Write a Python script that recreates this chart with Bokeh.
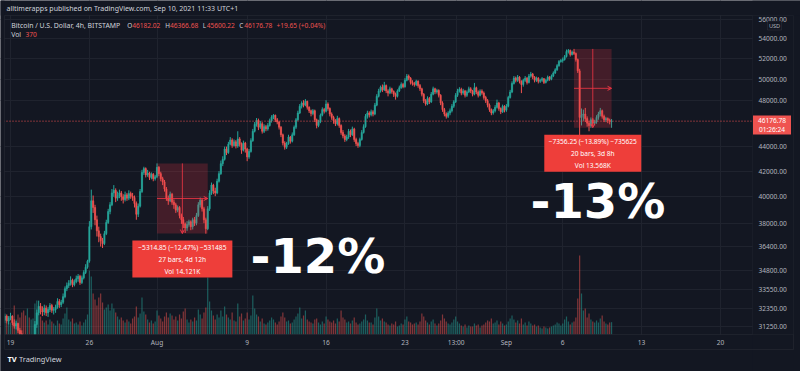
import math
import numpy as np
import pandas as pd
from bokeh.plotting import figure
from bokeh.models import (Range1d, LinearScale, FixedTicker, Grid, Label, Span,
                          BoxAnnotation, ColumnDataSource, Arrow, OpenHead)
from bokeh.embed import file_html
from bokeh.resources import INLINE

# ---------------- data: BTC/USD BITSTAMP, 4h bars ----------------
BAR_START = "2021-07-18 12:00"
FIRST_OPEN = 31650

CLOSE = [
    31900, 31600, 31780,                          # Jul 18 (12h-20h)
    31900, 31500, 31300, 31450, 31050, 30850,     # Jul 19
    30500, 30200, 29900, 30100, 29700, 29800,     # Jul 20
    30300, 31400, 32100, 32500, 32300, 32150,     # Jul 21
    32400, 32100, 32300, 32550, 32250, 32300,     # Jul 22
    32450, 32800, 32600, 32750, 33100, 33600,     # Jul 23
    33800, 33950, 34150, 33850, 34050, 34250,     # Jul 24
    34400, 34000, 34300, 34650, 35000, 35400,     # Jul 25
    37800, 39700, 39200, 38300, 37500, 37100,     # Jul 26
    36800, 36600, 37300, 38100, 38900, 39400,     # Jul 27
    40300, 40500, 39900, 40100, 40300, 40000,     # Jul 28
    39800, 40150, 39900, 40250, 40050, 39950,     # Jul 29
    39500, 38700, 39300, 40400, 41900, 42200,     # Jul 30
    41700, 41850, 41500, 41750, 41400, 41550,     # Jul 31
    42300, 41800, 41400, 41150, 40600, 39900,     # Aug 1
    39700, 40200, 39600, 39400, 39000, 39200,     # Aug 2
    38600, 38300, 38000, 37700, 37950, 38150,     # Aug 3
    37800, 38300, 38050, 38600, 39400, 39750,     # Aug 4
    39100, 38300, 37650, 39100, 40300, 40900,     # Aug 5
    40450, 40300, 41200, 41800, 42600, 42950,     # Aug 6
    43800, 43500, 44200, 44550, 44100, 44400,     # Aug 7
    44050, 44650, 44200, 43700, 44300, 43800,     # Aug 8
    43150, 43600, 44500, 45300, 45900, 46250,     # Aug 9
    45650, 45950, 45300, 45700, 45500, 45800,     # Aug 10
    46200, 46550, 46700, 46300, 46100, 45650,     # Aug 11
    45000, 44300, 43950, 44250, 44800, 44450,     # Aug 12
    45000, 45650, 46300, 46900, 47500, 47800,     # Aug 13
    47600, 47950, 47400, 47100, 46850, 47100,     # Aug 14
    46300, 45800, 46150, 46700, 47200, 47050,     # Aug 15
    47700, 47300, 46800, 46500, 46200, 45950,     # Aug 16
    46400, 45800, 45200, 44900, 44600, 44800,     # Aug 17
    45300, 45000, 45500, 44600, 44250, 44100,     # Aug 18
    44600, 45200, 45700, 46600, 46900, 46750,     # Aug 19
    47000, 46800, 47600, 48400, 48900, 49250,     # Aug 20
    49000, 49400, 48900, 48700, 49100, 48850,     # Aug 21
    48600, 48400, 48900, 49200, 49500, 49300,     # Aug 22
    49900, 50300, 50100, 49700, 49600, 49500,     # Aug 23
    49800, 49400, 49100, 48600, 48000, 47700,     # Aug 24
    48200, 47900, 48600, 49100, 48800, 48950,     # Aug 25
    48500, 47800, 47200, 46800, 46600, 46900,     # Aug 26
    47100, 47500, 47900, 48500, 48900, 49050,     # Aug 27
    48700, 48900, 48500, 48800, 49100, 48900,     # Aug 28
    48600, 49200, 48800, 48500, 48900, 48700,     # Aug 29
    48300, 48000, 47600, 47200, 46900, 47100,     # Aug 30
    47400, 47800, 47300, 47000, 47500, 47150,     # Aug 31
    47500, 48300, 48800, 49600, 50100, 49900,     # Sep 1
    50200, 49800, 49500, 49900, 50100, 49700,     # Sep 2
    50300, 50500, 50200, 49900, 50100, 49800,     # Sep 3
    49900, 50050, 49700, 49900, 50200, 50000,     # Sep 4
    50300, 50600, 50900, 51300, 51700, 51800,     # Sep 5
    51900, 52200, 52700, 52800, 52400, 52650,     # Sep 6
    52500, 51900, 50800, 46500, 46700, 46800,     # Sep 7
    46400, 46000, 45800, 46300, 46000, 46100,     # Sep 8
    46500, 46800, 47100, 46600, 46300, 46400,     # Sep 9
    46250, 46157.13, 46176.78,                    # Sep 10
]

HIGH = [
    32050, 32000, 31900,
    32100, 31950, 31700, 31600, 31500, 31200,
    31050, 30700, 30400, 30300, 30350, 30000,
    30500, 31600, 32300, 32850, 32700, 32500,
    32600, 32550, 32450, 32700, 32650, 32450,
    32600, 33000, 32950, 32900, 33300, 33750,
    34000, 34150, 34400, 34250, 34200, 34450,
    34550, 34500, 34450, 34800, 35200, 35500,
    38200, 40550, 40100, 39400, 38600, 37800,
    37300, 37000, 37500, 38300, 39100, 39600,
    40600, 40900, 40650, 40400, 40550, 40450,
    40200, 40400, 40300, 40500, 40400, 40300,
    40100, 39650, 39500, 40600, 42100, 42350,
    42300, 42100, 41950, 41900, 41850, 41700,
    42620, 42400, 41950, 41550, 41300, 40750,
    40100, 40400, 40300, 39800, 39550, 39350,
    39300, 38750, 38500, 38100, 38200, 38300,
    38250, 38450, 38500, 38800, 39600, 39950,
    39850, 39250, 38450, 39300, 40500, 41100,
    41000, 40700, 41400, 42000, 42850, 43200,
    44000, 44000, 44400, 44800, 44700, 44600,
    44550, 45300, 44800, 44350, 44500, 44400,
    43900, 43800, 44700, 45500, 46100, 46450,
    46400, 46200, 46100, 45900, 45850, 46000,
    46400, 46700, 46800, 46750, 46450, 46200,
    45750, 45100, 44450, 44400, 45000, 44900,
    45200, 45800, 46450, 47100, 47700, 47950,
    48050, 48150, 48000, 47500, 47200, 47250,
    47200, 46400, 46300, 46850, 47400, 47350,
    48050, 47850, 47400, 46950, 46650, 46350,
    46650, 46500, 45900, 45400, 45050, 45000,
    45500, 45450, 45700, 45600, 44750, 44400,
    44750, 45400, 45900, 46800, 47100, 47050,
    47200, 47150, 47800, 48600, 49100, 49400,
    49500, 49750, 49500, 49050, 49300, 49200,
    48950, 48750, 49050, 49400, 49700, 49650,
    50100, 50500, 50450, 50200, 49900, 49750,
    49950, 49900, 49550, 49200, 48700, 48150,
    48400, 48350, 48800, 49300, 49200, 49100,
    49050, 48600, 47950, 47350, 46950, 47050,
    47300, 47700, 48050, 48700, 49100, 49250,
    49200, 49100, 49000, 48950, 49300, 49250,
    49000, 49650, 49300, 48950, 49050, 49050,
    48850, 48450, 48150, 47750, 47300, 47250,
    47600, 48100, 47900, 47400, 47650, 47600,
    47700, 48450, 49000, 49800, 50300, 50250,
    50400, 50300, 49900, 50050, 50300, 50200,
    50500, 50700, 50600, 50300, 50250, 50200,
    50050, 50200, 50100, 50050, 50350, 50300,
    50450, 50750, 51050, 51450, 51850, 51950,
    52100, 52350, 52900, 52950, 52900, 52800,
    52960, 52600, 52000, 51000, 47300, 47200,
    47350, 46600, 46200, 46500, 46450, 46300,
    46700, 47000, 47350, 47200, 46750, 46550,
    46500, 46400, 46366.68,
]

LOW = [
    31500, 31450, 31400,
    31650, 31350, 31150, 31100, 30900, 30650,
    30300, 29900, 29500, 29300, 29500, 29450,
    29600, 30200, 31200, 31950, 32000, 31900,
    31950, 31900, 31850, 32150, 32100, 32000,
    32100, 32350, 32400, 32450, 32650, 33000,
    33450, 33650, 33800, 33700, 33750, 33950,
    34050, 33850, 33900, 34200, 34550, 34900,
    35300, 37600, 38800, 37900, 37100, 36700,
    36400, 36300, 36500, 37200, 38000, 38700,
    39300, 40000, 39600, 39700, 39900, 39700,
    39500, 39650, 39700, 39750, 39850, 39700,
    39200, 38300, 38500, 39200, 40300, 41700,
    41500, 41550, 41300, 41350, 41200, 41250,
    41450, 41600, 41200, 40900, 40400, 39700,
    39400, 39600, 39400, 39100, 38800, 38850,
    38400, 38000, 37700, 37350, 37500, 37800,
    37550, 37600, 37850, 37900, 38500, 39200,
    38900, 38050, 37300, 37550, 38950, 40150,
    40200, 40050, 40200, 41100, 41700, 42400,
    42850, 43300, 43400, 44100, 43900, 44000,
    43850, 43900, 44000, 43400, 43600, 43500,
    42800, 43000, 43500, 44400, 45200, 45700,
    45400, 45500, 45100, 45150, 45300, 45350,
    45700, 46050, 46350, 46100, 45900, 45450,
    44800, 44100, 43750, 43800, 44150, 44250,
    44350, 44900, 45500, 46200, 46800, 47300,
    47400, 47500, 47200, 46900, 46600, 46700,
    46100, 45550, 45650, 46000, 46600, 46850,
    46950, 47100, 46600, 46300, 45950, 45750,
    45800, 45600, 45000, 44700, 44400, 44450,
    44650, 44800, 44900, 44400, 44050, 43900,
    43950, 44500, 45100, 45600, 46400, 46500,
    46600, 46600, 46700, 47500, 48300, 48750,
    48800, 48900, 48700, 48400, 48600, 48650,
    48350, 48100, 48300, 48800, 49100, 49150,
    49200, 49800, 49900, 49500, 49400, 49300,
    49350, 49200, 48900, 48400, 47800, 47550,
    47600, 47700, 47800, 48500, 48600, 48650,
    48300, 47600, 47000, 46600, 46400, 46450,
    46700, 46950, 47350, 47800, 48350, 48750,
    48500, 48550, 48300, 48350, 48700, 48700,
    48400, 48500, 48600, 48300, 48400, 48550,
    48100, 47800, 47400, 47000, 46700, 46750,
    46950, 47300, 47100, 46800, 46900, 46950,
    47000, 47400, 48200, 48700, 49500, 49700,
    49750, 49600, 48700, 49300, 49750, 49500,
    49600, 50150, 50000, 49700, 49750, 49600,
    49650, 49750, 49550, 49600, 49800, 49850,
    49900, 50200, 50500, 50800, 51200, 51600,
    51600, 51800, 52100, 52500, 52200, 52300,
    52350, 51700, 50600, 42800, 45800, 46200,
    46100, 45700, 45300, 45600, 45750, 45800,
    45950, 46300, 46600, 46400, 46100, 46100,
    46000, 45900, 45600.22,
]

VOLUME = [
    390, 330, 450,
    360, 540, 870, 450, 600, 510,
    660, 720, 570, 780, 510, 450,
    480, 930, 1020, 810, 540, 420,
    360, 420, 300, 450, 390, 330,
    270, 420, 330, 300, 480, 630,
    810, 450, 390, 480, 330, 360,
    300, 390, 270, 360, 450, 600,
    1920, 1740, 1230, 1050, 870, 1110,
    1230, 960, 750, 810, 900, 720,
    930, 780, 660, 540, 450, 510,
    420, 360, 450, 390, 330, 480,
    540, 840, 510, 630, 1110, 690,
    600, 450, 360, 420, 330, 390,
    720, 570, 480, 390, 540, 660,
    510, 630, 570, 450, 540, 420,
    600, 480, 690, 780, 450, 360,
    450, 390, 510, 420, 750, 600,
    480, 660, 810, 1710, 990, 720,
    570, 450, 600, 510, 720, 540,
    840, 600, 510, 450, 660, 420,
    390, 930, 540, 630, 420, 480,
    660, 450, 570, 1170, 780, 600,
    540, 390, 480, 330, 300, 360,
    420, 510, 450, 360, 300, 390,
    540, 660, 510, 390, 420, 330,
    360, 450, 540, 630, 810, 480,
    570, 720, 450, 390, 360, 330,
    450, 480, 360, 300, 390, 330,
    540, 450, 390, 360, 420, 330,
    480, 390, 720, 510, 450, 360,
    390, 330, 420, 510, 360, 300,
    330, 390, 450, 600, 420, 360,
    360, 300, 510, 780, 540, 420,
    480, 390, 360, 300, 270, 330,
    300, 390, 240, 270, 330, 300,
    450, 540, 390, 360, 300, 330,
    360, 300, 390, 630, 540, 420,
    360, 300, 390, 450, 330, 270,
    330, 420, 600, 480, 390, 330,
    300, 360, 450, 540, 390, 330,
    270, 240, 300, 210, 270, 240,
    240, 330, 270, 300, 210, 270,
    300, 360, 420, 390, 480, 330,
    360, 420, 300, 390, 330, 270,
    300, 390, 480, 570, 450, 360,
    420, 330, 480, 300, 360, 270,
    390, 330, 270, 300, 240, 270,
    210, 180, 240, 210, 180, 210,
    240, 270, 300, 360, 330, 270,
    330, 450, 540, 390, 300, 360,
    390, 510, 1080, 2370, 1230, 720,
    780, 510, 630, 450, 390, 360,
    420, 360, 480, 570, 390, 330,
    300, 360, 370,
]

TICK_TIMES = ["2021-07-19", "2021-07-26", "2021-08-01", "2021-08-09", "2021-08-16",
              "2021-08-23", "2021-08-27 13:00", "2021-09-01", "2021-09-06",
              "2021-09-13", "2021-09-20"]
TICK_LABELS = ["19", "26", "Aug", "9", "16", "23", "13:00", "Sep", "6", "13", "20"]
PRICE_TICKS = [31250, 32350, 33550, 34800, 36400, 38000, 40000, 42000, 44000,
               48000, 50000, 52000, 54000, 56000]

LAST_PRICE = 46176.78
COUNTDOWN = "01:26:24"
HEADER = "alltimerapps published on TradingView.com, Sep 10, 2021 11:33 UTC+1"
SYMBOL = "Bitcoin / U.S. Dollar, 4h, BITSTAMP"
OHLC_LAST = [("O", "46182.02"), ("H", "46366.68"), ("L", "45600.22"), ("C", "46176.78")]
CHANGE_TXT = "+19.65 (+0.04%)"
VOL_LAST = "370"

# measurement tools: start bar, bar count, start price, change, percent, duration, volume, note
MEASURES = [
    ("2021-08-01 00:00", 27, 42620.90, -5314.85, -12.47, "4d 12h", "14.121K", "-12%"),
    ("2021-09-07 00:00", 20, 52960.80, -7356.25, -13.89, "3d 8h", "13.568K", "-13%"),
]

# ---------------- layout / style ----------------
BG = "#131722"
GRID = "#1f232e"
BORDER = "#2a2e39"
TXT = "#d1d4dc"
AXIS_TXT = "#b2b5be"
UP = "#26a69a"
DOWN = "#ef5350"
RED = "#f23645"
LABEL_RED = "#ee3e3a"
FONT = "Noto Sans"
W, H = 800, 371

PANE_L, PANE_R, PANE_T, PANE_B = 4, 752, 15, 334   # price pane (canvas px)
OUT_R, OUT_B = 793, 349                            # outer chart border
PX_PER_DAY = 11.27
REF = pd.Timestamp("2021-07-19")                   # at canvas x = 10
REF_PX = 10
HPP = 24.0 / PX_PER_DAY                            # hours per pixel
Y_BOT, Y_TOP = 30806, 56426                        # price at pane bottom / top
PX_PER_LN = (PANE_B - PANE_T) / math.log(Y_TOP / Y_BOT)
VPP = 30.0                                         # volume units per pixel


def hx(t):
    return (pd.Timestamp(t) - REF) / pd.Timedelta(hours=1)


def cx(px):
    return (px - REF_PX) * HPP


def cy(py):
    return Y_BOT * math.exp((PANE_B - py) / PX_PER_LN)


def shift_p(price, dpx_down):
    return price * math.exp(-dpx_down / PX_PER_LN)


n = min(len(CLOSE), len(HIGH), len(LOW), len(VOLUME))
times = pd.date_range(BAR_START, periods=n, freq="4h")
x = np.array([(t - REF) / pd.Timedelta(hours=1) for t in times])
close = np.array(CLOSE[:n], dtype=float)
opens = np.concatenate([[FIRST_OPEN], close[:-1]])
high = np.array(HIGH[:n], dtype=float)
low = np.array(LOW[:n], dtype=float)
vol = np.array(VOLUME[:n], dtype=float)
colors = [UP if c >= o else DOWN for o, c in zip(opens, close)]

src = ColumnDataSource(dict(
    x=x, top=np.maximum(opens, close), bottom=np.minimum(opens, close),
    high=high, low=low, color=colors, vol=vol,
))

p = figure(width=W, height=H, output_backend="svg", toolbar_location=None,
           x_range=Range1d(cx(0), cx(W)), y_range=Range1d(cy(H), cy(0)),
           y_axis_type="log", x_axis_location=None, y_axis_location=None,
           min_border=0, background_fill_color=BG, border_fill_color=BG,
           outline_line_color=None)
# drop the default grids (their axes are hidden) and use our own
p.center = [r for r in p.center if not isinstance(r, Grid)]
p.extra_y_ranges = {"vol": Range1d(-(H - PANE_B) * VPP, PANE_B * VPP)}
p.extra_y_scales = {"vol": LinearScale()}

tick_x = [hx(t) for t in TICK_TIMES]
p.add_layout(Grid(dimension=0, ticker=FixedTicker(ticks=tick_x), grid_line_color=GRID))
p.add_layout(Grid(dimension=1, ticker=FixedTicker(ticks=PRICE_TICKS), grid_line_color=GRID))

# volume
p.vbar(x="x", width=2.6, top="vol", bottom=0, fill_color="color", fill_alpha=0.5,
       line_color=None, y_range_name="vol", source=src)
# candles
p.segment(x0="x", y0="low", x1="x", y1="high", line_color="color", line_width=1, source=src)
p.vbar(x="x", width=2.6, top="top", bottom="bottom", fill_color="color", line_color="color",
       line_width=0.6, source=src)

p.add_layout(Span(location=LAST_PRICE, dimension="width", line_color=DOWN,
                  line_dash="1 2", line_width=1))


def txt(xv, yv, s, size="6.6px", color=TXT, align="left", baseline="middle",
        font=FONT, style="normal"):
    lab = Label(x=xv, y=yv, text=s, text_font_size=size, text_color=color,
                text_align=align, text_baseline=baseline, text_font=font,
                text_font_style=style)
    p.add_layout(lab)
    return lab


def box(l, r, t, b, fill=None, alpha=1.0, line=None, lw=1):
    p.add_layout(BoxAnnotation(left=l, right=r, top=t, bottom=b,
                               fill_color=fill, fill_alpha=alpha if fill else 0,
                               line_color=line, line_width=lw))


# measurement tools
BIG_POS = [(250, 255.5), (530, 200)]
LABEL_W = [100, 97]
for (start, bars, p0, chg, pct, dur, mvol, big), (bxp, byp), lw in zip(MEASURES, BIG_POS, LABEL_W):
    x0 = hx(start)
    x1 = x0 + bars * 4
    p1 = p0 + chg
    xm = (x0 + x1) / 2
    pm = math.sqrt(p0 * p1)
    box(x0, x1, p0, p1, fill=RED, alpha=0.22)
    p.add_layout(Arrow(x_start=xm, y_start=p0, x_end=xm, y_end=p1, line_color=RED,
                       line_width=1, line_alpha=0.8,
                       end=OpenHead(size=4, line_color=RED, line_width=1)))
    p.add_layout(Arrow(x_start=x0, y_start=pm, x_end=x1, y_end=pm, line_color=RED,
                       line_width=1, line_alpha=0.8,
                       end=OpenHead(size=4, line_color=RED, line_width=1)))
    box(xm - lw / 2 * HPP, xm + lw / 2 * HPP, shift_p(p1, 7), shift_p(p1, 44), fill=LABEL_RED)
    line1 = "\u2212%.2f (\u2212%.2f%%) \u2212%d" % (abs(chg), abs(pct), round(abs(chg) * 100))
    for k, s in enumerate([line1, "%d bars, %s" % (bars, dur), "Vol %s" % mvol]):
        txt(xm, shift_p(p1, 13.6 + 12 * k), s, size="6.6px", color="#ffffff", align="center")
    txt(cx(bxp), cy(byp), big, size="48px", color="#ffffff", baseline="alphabetic",
        font="DejaVu Sans", style="bold")

# masks outside the price pane (time scale, price scale, header)
box(cx(0), cx(W), cy(PANE_B), cy(H), fill=BG)
box(cx(PANE_R), cx(W), cy(0), cy(H), fill=BG)
box(cx(0), cx(W), cy(0), cy(PANE_T), fill=BG)
box(cx(0), cx(PANE_L), cy(0), cy(H), fill=BG)

# borders
box(cx(PANE_L), cx(OUT_R), cy(PANE_T), cy(OUT_B), line=BORDER)
box(cx(PANE_L), cx(PANE_R), cy(PANE_T), cy(PANE_B), line=BORDER)
box(cx(PANE_L), cx(OUT_R), cy(PANE_B), cy(OUT_B), line=BORDER)

# price scale labels
for tv in PRICE_TICKS:
    txt(cx(758), tv, "%.2f" % tv, size="6.6px", color=AXIS_TXT)
# time scale labels
for tv, lab in zip(tick_x, TICK_LABELS):
    txt(tv, cy(341.5), lab, size="6.6px", color=AXIS_TXT, align="center")

# last-price tag
box(cx(752.5), cx(790.5), cy(115), cy(134), fill=DOWN)
txt(cx(771.5), cy(120.3), "%.2f" % LAST_PRICE, size="6.6px", color="#ffffff", align="center")
txt(cx(771.5), cy(128.6), COUNTDOWN, size="6.6px", color="#ffffff", align="center")

# currency tag
box(cx(767), cx(781), cy(20.5), cy(29.5), fill=BG, line="#434651")
txt(cx(774), cy(25.2), "USD", size="5.6px", color=AXIS_TXT, align="center")

# header / legend
txt(cx(6), cy(8.3), HEADER, size="7px", color=TXT)
txt(cx(10.7), cy(25), SYMBOL, size="6.9px", color=TXT)
OHLC_X = [(126.8, 131.7), (164.8, 169.5), (202.2, 206.2), (238.8, 243.7)]
for (k, v), (kx, vx) in zip(OHLC_LAST, OHLC_X):
    txt(cx(kx), cy(25), k, size="6.4px", color=TXT)
    txt(cx(vx), cy(25), v, size="6.6px", color=DOWN)
txt(cx(276), cy(25), CHANGE_TXT, size="6.6px", color=DOWN)
txt(cx(10.7), cy(34.3), "Vol", size="6.8px", color=TXT)
txt(cx(25), cy(34.3), VOL_LAST, size="6.6px", color=DOWN)

# footer
txt(cx(7), cy(358), "TV", size="7.5px", color="#ffffff", style="bold")
txt(cx(18.5), cy(358), "TradingView", size="7.4px", color=TXT)

open("out.html", "w").write(file_html(p, INLINE))
